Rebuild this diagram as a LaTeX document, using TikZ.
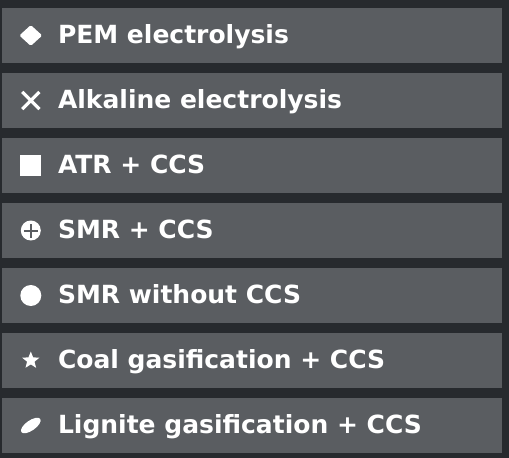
\documentclass[tikz,border=0pt]{standalone}
\usepackage{fontspec}
\setmainfont{DejaVu Sans}
\usetikzlibrary{positioning,shapes.geometric,shapes.misc}
\definecolor{bgdark}{HTML}{272A2E}
\definecolor{rowgray}{HTML}{5A5D61}

\begin{document}
\begin{tikzpicture}[x=1pt, y=-1pt, node distance=65pt]
    \tikzstyle{row}=[rectangle, fill=rowgray, minimum width=500pt, minimum height=55pt, inner sep=0pt]
    \tikzstyle{lbl}=[anchor=base west, inner sep=0pt, text=white, font=\bfseries\fontsize{25}{30}\selectfont]
    \tikzstyle{sym}=[fill=white, inner sep=0pt]

    % Sfondo
    \useasboundingbox (0,0) rectangle (509,458);
    \fill[bgdark] (0,0) rectangle (509,458);

    % Righe
    \node[row] (r1) at (252,35.5) {};
    \node[row, below of=r1] (r2) {};
    \node[row, below of=r2] (r3) {};
    \node[row, below of=r3] (r4) {};
    \node[row, below of=r4] (r5) {};
    \node[row, below of=r5] (r6) {};
    \node[row, below of=r6] (r7) {};

    % Simboli
    \node[sym, diamond, aspect=1.1, minimum width=23pt, minimum height=21pt, rounded corners=1.5pt] (s1) at ([xshift=29pt]r1.west) {};
    \node[draw=white, cross out, line width=3.2pt, minimum size=14pt, inner sep=0pt] (s2) at ([xshift=29pt]r2.west) {};
    \node[sym, rectangle, minimum size=21pt] (s3) at ([xshift=29pt]r3.west) {};
    \node[sym, circle, minimum size=20pt] (s4) at ([xshift=29pt]r4.west) {};
    \draw[rowgray, line width=2pt] ([xshift=-7pt]s4.center) -- ([xshift=7pt]s4.center);
    \draw[rowgray, line width=2pt] ([yshift=-7pt]s4.center) -- ([yshift=7pt]s4.center);
    \node[sym, circle, minimum size=21pt] (s5) at ([xshift=29pt]r5.west) {};
    \node[sym, star, star points=5, star point ratio=2.3, minimum size=18pt] (s6) at ([xshift=29pt]r6.west) {};
    \node[sym, ellipse, minimum width=23pt, minimum height=10pt, rotate=35] (s7) at ([xshift=29pt]r7.west) {};

    % Etichette
    \node[lbl] (t1) at ([xshift=56pt, yshift=-8pt]r1.west) {PEM electrolysis};
    \node[lbl] (t2) at ([xshift=56pt, yshift=-8pt]r2.west) {Alkaline electrolysis};
    \node[lbl] (t3) at ([xshift=56pt, yshift=-8pt]r3.west) {ATR + CCS};
    \node[lbl] (t4) at ([xshift=56pt, yshift=-8pt]r4.west) {SMR + CCS};
    \node[lbl] (t5) at ([xshift=56pt, yshift=-8pt]r5.west) {SMR without CCS};
    \node[lbl] (t6) at ([xshift=56pt, yshift=-8pt]r6.west) {Coal gasification + CCS};
    \node[lbl] (t7) at ([xshift=56pt, yshift=-8pt]r7.west) {Lignite gasification + CCS};
\end{tikzpicture}
\end{document}
